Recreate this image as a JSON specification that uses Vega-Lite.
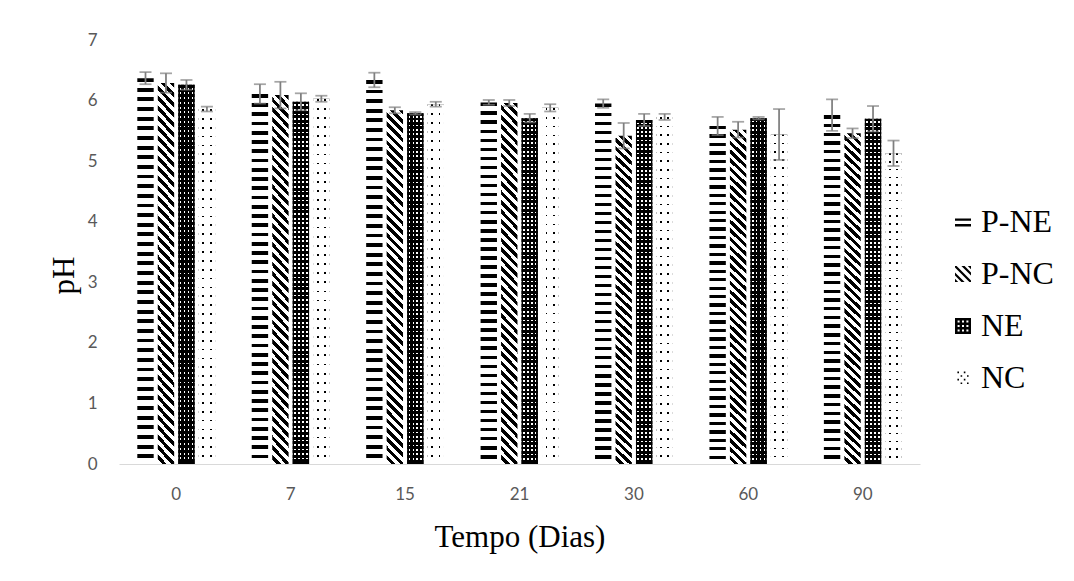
{
"$schema":"https://vega.github.io/schema/vega-lite/v6.json",
"width":801,"height":424,
"autosize":{"type":"none"},
"padding":{"left":119,"top":40,"right":154,"bottom":117},
"background":"white",
"config":{"view":{"stroke":null},
"axis":{"labelFont":"Lato","labelFontSize":17,"labelColor":"#595959","titleFont":"Liberation Serif","titleFontSize":31,"titleFontWeight":"normal","titleColor":"#000","grid":false,"ticks":false}},
"data":{"values":[
{"day":"0","series":"P-NE","ph":6.37,"lo":6.27,"hi":6.47},
{"day":"0","series":"P-NC","ph":6.29,"lo":6.13,"hi":6.45},
{"day":"0","series":"NE","ph":6.26,"lo":6.18,"hi":6.34},
{"day":"0","series":"NC","ph":5.86,"lo":5.82,"hi":5.9},
{"day":"7","series":"P-NE","ph":6.11,"lo":5.95,"hi":6.27},
{"day":"7","series":"P-NC","ph":6.09,"lo":5.87,"hi":6.31},
{"day":"7","series":"NE","ph":5.98,"lo":5.84,"hi":6.12},
{"day":"7","series":"NC","ph":6.03,"lo":5.98,"hi":6.08},
{"day":"15","series":"P-NE","ph":6.34,"lo":6.22,"hi":6.46},
{"day":"15","series":"P-NC","ph":5.84,"lo":5.79,"hi":5.89},
{"day":"15","series":"NE","ph":5.79,"lo":5.77,"hi":5.81},
{"day":"15","series":"NC","ph":5.94,"lo":5.9,"hi":5.98},
{"day":"21","series":"P-NE","ph":5.97,"lo":5.93,"hi":6.01},
{"day":"21","series":"P-NC","ph":5.96,"lo":5.91,"hi":6.01},
{"day":"21","series":"NE","ph":5.71,"lo":5.64,"hi":5.78},
{"day":"21","series":"NC","ph":5.88,"lo":5.82,"hi":5.94},
{"day":"30","series":"P-NE","ph":5.95,"lo":5.88,"hi":6.02},
{"day":"30","series":"P-NC","ph":5.42,"lo":5.21,"hi":5.63},
{"day":"30","series":"NE","ph":5.68,"lo":5.58,"hi":5.78},
{"day":"30","series":"NC","ph":5.73,"lo":5.68,"hi":5.78},
{"day":"60","series":"P-NE","ph":5.58,"lo":5.43,"hi":5.73},
{"day":"60","series":"P-NC","ph":5.52,"lo":5.39,"hi":5.65},
{"day":"60","series":"NE","ph":5.71,"lo":5.69,"hi":5.73},
{"day":"60","series":"NC","ph":5.44,"lo":5.02,"hi":5.86},
{"day":"90","series":"P-NE","ph":5.76,"lo":5.5,"hi":6.02},
{"day":"90","series":"P-NC","ph":5.46,"lo":5.38,"hi":5.54},
{"day":"90","series":"NE","ph":5.7,"lo":5.49,"hi":5.91},
{"day":"90","series":"NC","ph":5.13,"lo":4.92,"hi":5.34}
]},
"encoding":{
"x":{"field":"day","type":"ordinal","sort":["0","7","15","21","30","60","90"],"scale":{"paddingInner":0.32,"paddingOuter":0.16},"axis":{"title":"Tempo (Dias)","labelAngle":0,"domainColor":"#d9d9d9","domainWidth":1,"labelPadding":22,"titlePadding":20}},
"xOffset":{"field":"series","type":"nominal","sort":["P-NE","P-NC","NE","NC"],"scale":{"domain":["P-NE","P-NC","NE","NC"],"paddingInner":0.2,"paddingOuter":0}},
"y":{"field":"ph","type":"quantitative","title":"pH","scale":{"domain":[0,7],"nice":false},"axis":{"domain":false,"values":[0,1,2,3,4,5,6,7],"labelPadding":22,"titleX":-39,"titleY":235}}
},
"layer":[
{"mark":{"type":"point","filled":true,"color":"#000"},
"encoding":{
"y":{"datum":3,"type":"quantitative"},
"shape":{"field":"series","type":"nominal","sort":["P-NE","P-NC","NE","NC"],
"legend":{"title":null,"orient":"none","legendX":828,"legendY":166,"symbolSize":256,"symbolStrokeWidth":0,"symbolOpacity":1,"symbolFillColor":"#000","labelFont":"Liberation Serif","labelFontSize":32,"labelColor":"#000","rowPadding":20,"labelOffset":2},
"scale":{"domain":["P-NE","P-NC","NE","NC"],"range":[
"M-1,-0.45H1V-0.15H-1Z M-1,0.25H1V0.55H-1Z",
"M0.6,-1L1,-1L1,-0.6Z M-0.2,-1L0.2,-1L1,-0.2L1,0.2Z M-1,-1L-0.8,-1L1,0.8L1,1L0.8,1L-1,-0.8Z M-1,-0.2L0.2,1L-0.2,1L-1,0.2Z M-1,0.6L-0.6,1L-1,1Z",
"M-1,-1H1V1H-1Z M-0.675,-0.675V-0.425H-0.425V-0.675Z M-0.125,-0.675V-0.425H0.125V-0.675Z M0.425,-0.675V-0.425H0.675V-0.675Z M-0.675,-0.125V0.125H-0.425V-0.125Z M-0.125,-0.125V0.125H0.125V-0.125Z M0.425,-0.125V0.125H0.675V-0.125Z M-0.675,0.425V0.675H-0.425V0.425Z M-0.125,0.425V0.675H0.125V0.425Z M0.425,0.425V0.675H0.675V0.425Z",
"M-0.7,-0.8H-0.5V-0.6H-0.7Z M0.1,-0.8H0.3V-0.6H0.1Z M-0.3,-0.35H-0.1V-0.15H-0.3Z M0.5,-0.35H0.7V-0.15H0.5Z M-0.7,0.1H-0.5V0.3H-0.7Z M0.1,0.1H0.3V0.3H0.1Z M-0.3,0.55H-0.1V0.75H-0.3Z M0.5,0.55H0.7V0.75H0.5Z"
]}}}},
{"transform":[{"filter":"datum.series === 'P-NE'"}],
"mark":{"type":"bar","fill":{"gradient":"linear","x1":1,"y1":0,"x2":1,"y2":1,"stops":[
{"offset":0,"color":"#000"},{"offset":0.01,"color":"#000"},{"offset":0.01,"color":"#fff"},{"offset":0.025,"color":"#fff"},
{"offset":0.025,"color":"#000"},{"offset":0.035,"color":"#000"},{"offset":0.035,"color":"#fff"},{"offset":0.05,"color":"#fff"},
{"offset":0.05,"color":"#000"},{"offset":0.06,"color":"#000"},{"offset":0.06,"color":"#fff"},{"offset":0.075,"color":"#fff"},
{"offset":0.075,"color":"#000"},{"offset":0.085,"color":"#000"},{"offset":0.085,"color":"#fff"},{"offset":0.1,"color":"#fff"},
{"offset":0.1,"color":"#000"},{"offset":0.11,"color":"#000"},{"offset":0.11,"color":"#fff"},{"offset":0.125,"color":"#fff"},
{"offset":0.125,"color":"#000"},{"offset":0.135,"color":"#000"},{"offset":0.135,"color":"#fff"},{"offset":0.15,"color":"#fff"},
{"offset":0.15,"color":"#000"},{"offset":0.16,"color":"#000"},{"offset":0.16,"color":"#fff"},{"offset":0.175,"color":"#fff"},
{"offset":0.175,"color":"#000"},{"offset":0.185,"color":"#000"},{"offset":0.185,"color":"#fff"},{"offset":0.2,"color":"#fff"},
{"offset":0.2,"color":"#000"},{"offset":0.21,"color":"#000"},{"offset":0.21,"color":"#fff"},{"offset":0.225,"color":"#fff"},
{"offset":0.225,"color":"#000"},{"offset":0.235,"color":"#000"},{"offset":0.235,"color":"#fff"},{"offset":0.25,"color":"#fff"},
{"offset":0.25,"color":"#000"},{"offset":0.26,"color":"#000"},{"offset":0.26,"color":"#fff"},{"offset":0.275,"color":"#fff"},
{"offset":0.275,"color":"#000"},{"offset":0.285,"color":"#000"},{"offset":0.285,"color":"#fff"},{"offset":0.3,"color":"#fff"},
{"offset":0.3,"color":"#000"},{"offset":0.31,"color":"#000"},{"offset":0.31,"color":"#fff"},{"offset":0.325,"color":"#fff"},
{"offset":0.325,"color":"#000"},{"offset":0.335,"color":"#000"},{"offset":0.335,"color":"#fff"},{"offset":0.35,"color":"#fff"},
{"offset":0.35,"color":"#000"},{"offset":0.36,"color":"#000"},{"offset":0.36,"color":"#fff"},{"offset":0.375,"color":"#fff"},
{"offset":0.375,"color":"#000"},{"offset":0.385,"color":"#000"},{"offset":0.385,"color":"#fff"},{"offset":0.4,"color":"#fff"},
{"offset":0.4,"color":"#000"},{"offset":0.41,"color":"#000"},{"offset":0.41,"color":"#fff"},{"offset":0.425,"color":"#fff"},
{"offset":0.425,"color":"#000"},{"offset":0.435,"color":"#000"},{"offset":0.435,"color":"#fff"},{"offset":0.45,"color":"#fff"},
{"offset":0.45,"color":"#000"},{"offset":0.46,"color":"#000"},{"offset":0.46,"color":"#fff"},{"offset":0.475,"color":"#fff"},
{"offset":0.475,"color":"#000"},{"offset":0.485,"color":"#000"},{"offset":0.485,"color":"#fff"},{"offset":0.5,"color":"#fff"},
{"offset":0.5,"color":"#000"},{"offset":0.51,"color":"#000"},{"offset":0.51,"color":"#fff"},{"offset":0.525,"color":"#fff"},
{"offset":0.525,"color":"#000"},{"offset":0.535,"color":"#000"},{"offset":0.535,"color":"#fff"},{"offset":0.55,"color":"#fff"},
{"offset":0.55,"color":"#000"},{"offset":0.56,"color":"#000"},{"offset":0.56,"color":"#fff"},{"offset":0.575,"color":"#fff"},
{"offset":0.575,"color":"#000"},{"offset":0.585,"color":"#000"},{"offset":0.585,"color":"#fff"},{"offset":0.6,"color":"#fff"},
{"offset":0.6,"color":"#000"},{"offset":0.61,"color":"#000"},{"offset":0.61,"color":"#fff"},{"offset":0.625,"color":"#fff"},
{"offset":0.625,"color":"#000"},{"offset":0.635,"color":"#000"},{"offset":0.635,"color":"#fff"},{"offset":0.65,"color":"#fff"},
{"offset":0.65,"color":"#000"},{"offset":0.66,"color":"#000"},{"offset":0.66,"color":"#fff"},{"offset":0.675,"color":"#fff"},
{"offset":0.675,"color":"#000"},{"offset":0.685,"color":"#000"},{"offset":0.685,"color":"#fff"},{"offset":0.7,"color":"#fff"},
{"offset":0.7,"color":"#000"},{"offset":0.71,"color":"#000"},{"offset":0.71,"color":"#fff"},{"offset":0.725,"color":"#fff"},
{"offset":0.725,"color":"#000"},{"offset":0.735,"color":"#000"},{"offset":0.735,"color":"#fff"},{"offset":0.75,"color":"#fff"},
{"offset":0.75,"color":"#000"},{"offset":0.76,"color":"#000"},{"offset":0.76,"color":"#fff"},{"offset":0.775,"color":"#fff"},
{"offset":0.775,"color":"#000"},{"offset":0.785,"color":"#000"},{"offset":0.785,"color":"#fff"},{"offset":0.8,"color":"#fff"},
{"offset":0.8,"color":"#000"},{"offset":0.81,"color":"#000"},{"offset":0.81,"color":"#fff"},{"offset":0.825,"color":"#fff"},
{"offset":0.825,"color":"#000"},{"offset":0.835,"color":"#000"},{"offset":0.835,"color":"#fff"},{"offset":0.85,"color":"#fff"},
{"offset":0.85,"color":"#000"},{"offset":0.86,"color":"#000"},{"offset":0.86,"color":"#fff"},{"offset":0.875,"color":"#fff"},
{"offset":0.875,"color":"#000"},{"offset":0.885,"color":"#000"},{"offset":0.885,"color":"#fff"},{"offset":0.9,"color":"#fff"},
{"offset":0.9,"color":"#000"},{"offset":0.91,"color":"#000"},{"offset":0.91,"color":"#fff"},{"offset":0.925,"color":"#fff"},
{"offset":0.925,"color":"#000"},{"offset":0.935,"color":"#000"},{"offset":0.935,"color":"#fff"},{"offset":0.95,"color":"#fff"},
{"offset":0.95,"color":"#000"},{"offset":0.96,"color":"#000"},{"offset":0.96,"color":"#fff"},{"offset":0.975,"color":"#fff"},
{"offset":0.975,"color":"#000"},{"offset":0.985,"color":"#000"},{"offset":0.985,"color":"#fff"},{"offset":1,"color":"#fff"}
]}}},
{"transform":[{"filter":"datum.series === 'P-NC'"}],
"mark":{"type":"bar","fill":{"gradient":"linear","x1":1,"y1":0,"x2":0.951,"y2":1.045,"stops":[
{"offset":0,"color":"#000"},{"offset":0.0125,"color":"#000"},{"offset":0.0125,"color":"#fff"},{"offset":0.025,"color":"#fff"},
{"offset":0.025,"color":"#000"},{"offset":0.0375,"color":"#000"},{"offset":0.0375,"color":"#fff"},{"offset":0.05,"color":"#fff"},
{"offset":0.05,"color":"#000"},{"offset":0.0625,"color":"#000"},{"offset":0.0625,"color":"#fff"},{"offset":0.075,"color":"#fff"},
{"offset":0.075,"color":"#000"},{"offset":0.0875,"color":"#000"},{"offset":0.0875,"color":"#fff"},{"offset":0.1,"color":"#fff"},
{"offset":0.1,"color":"#000"},{"offset":0.1125,"color":"#000"},{"offset":0.1125,"color":"#fff"},{"offset":0.125,"color":"#fff"},
{"offset":0.125,"color":"#000"},{"offset":0.1375,"color":"#000"},{"offset":0.1375,"color":"#fff"},{"offset":0.15,"color":"#fff"},
{"offset":0.15,"color":"#000"},{"offset":0.1625,"color":"#000"},{"offset":0.1625,"color":"#fff"},{"offset":0.175,"color":"#fff"},
{"offset":0.175,"color":"#000"},{"offset":0.1875,"color":"#000"},{"offset":0.1875,"color":"#fff"},{"offset":0.2,"color":"#fff"},
{"offset":0.2,"color":"#000"},{"offset":0.2125,"color":"#000"},{"offset":0.2125,"color":"#fff"},{"offset":0.225,"color":"#fff"},
{"offset":0.225,"color":"#000"},{"offset":0.2375,"color":"#000"},{"offset":0.2375,"color":"#fff"},{"offset":0.25,"color":"#fff"},
{"offset":0.25,"color":"#000"},{"offset":0.2625,"color":"#000"},{"offset":0.2625,"color":"#fff"},{"offset":0.275,"color":"#fff"},
{"offset":0.275,"color":"#000"},{"offset":0.2875,"color":"#000"},{"offset":0.2875,"color":"#fff"},{"offset":0.3,"color":"#fff"},
{"offset":0.3,"color":"#000"},{"offset":0.3125,"color":"#000"},{"offset":0.3125,"color":"#fff"},{"offset":0.325,"color":"#fff"},
{"offset":0.325,"color":"#000"},{"offset":0.3375,"color":"#000"},{"offset":0.3375,"color":"#fff"},{"offset":0.35,"color":"#fff"},
{"offset":0.35,"color":"#000"},{"offset":0.3625,"color":"#000"},{"offset":0.3625,"color":"#fff"},{"offset":0.375,"color":"#fff"},
{"offset":0.375,"color":"#000"},{"offset":0.3875,"color":"#000"},{"offset":0.3875,"color":"#fff"},{"offset":0.4,"color":"#fff"},
{"offset":0.4,"color":"#000"},{"offset":0.4125,"color":"#000"},{"offset":0.4125,"color":"#fff"},{"offset":0.425,"color":"#fff"},
{"offset":0.425,"color":"#000"},{"offset":0.4375,"color":"#000"},{"offset":0.4375,"color":"#fff"},{"offset":0.45,"color":"#fff"},
{"offset":0.45,"color":"#000"},{"offset":0.4625,"color":"#000"},{"offset":0.4625,"color":"#fff"},{"offset":0.475,"color":"#fff"},
{"offset":0.475,"color":"#000"},{"offset":0.4875,"color":"#000"},{"offset":0.4875,"color":"#fff"},{"offset":0.5,"color":"#fff"},
{"offset":0.5,"color":"#000"},{"offset":0.5125,"color":"#000"},{"offset":0.5125,"color":"#fff"},{"offset":0.525,"color":"#fff"},
{"offset":0.525,"color":"#000"},{"offset":0.5375,"color":"#000"},{"offset":0.5375,"color":"#fff"},{"offset":0.55,"color":"#fff"},
{"offset":0.55,"color":"#000"},{"offset":0.5625,"color":"#000"},{"offset":0.5625,"color":"#fff"},{"offset":0.575,"color":"#fff"},
{"offset":0.575,"color":"#000"},{"offset":0.5875,"color":"#000"},{"offset":0.5875,"color":"#fff"},{"offset":0.6,"color":"#fff"},
{"offset":0.6,"color":"#000"},{"offset":0.6125,"color":"#000"},{"offset":0.6125,"color":"#fff"},{"offset":0.625,"color":"#fff"},
{"offset":0.625,"color":"#000"},{"offset":0.6375,"color":"#000"},{"offset":0.6375,"color":"#fff"},{"offset":0.65,"color":"#fff"},
{"offset":0.65,"color":"#000"},{"offset":0.6625,"color":"#000"},{"offset":0.6625,"color":"#fff"},{"offset":0.675,"color":"#fff"},
{"offset":0.675,"color":"#000"},{"offset":0.6875,"color":"#000"},{"offset":0.6875,"color":"#fff"},{"offset":0.7,"color":"#fff"},
{"offset":0.7,"color":"#000"},{"offset":0.7125,"color":"#000"},{"offset":0.7125,"color":"#fff"},{"offset":0.725,"color":"#fff"},
{"offset":0.725,"color":"#000"},{"offset":0.7375,"color":"#000"},{"offset":0.7375,"color":"#fff"},{"offset":0.75,"color":"#fff"},
{"offset":0.75,"color":"#000"},{"offset":0.7625,"color":"#000"},{"offset":0.7625,"color":"#fff"},{"offset":0.775,"color":"#fff"},
{"offset":0.775,"color":"#000"},{"offset":0.7875,"color":"#000"},{"offset":0.7875,"color":"#fff"},{"offset":0.8,"color":"#fff"},
{"offset":0.8,"color":"#000"},{"offset":0.8125,"color":"#000"},{"offset":0.8125,"color":"#fff"},{"offset":0.825,"color":"#fff"},
{"offset":0.825,"color":"#000"},{"offset":0.8375,"color":"#000"},{"offset":0.8375,"color":"#fff"},{"offset":0.85,"color":"#fff"},
{"offset":0.85,"color":"#000"},{"offset":0.8625,"color":"#000"},{"offset":0.8625,"color":"#fff"},{"offset":0.875,"color":"#fff"},
{"offset":0.875,"color":"#000"},{"offset":0.8875,"color":"#000"},{"offset":0.8875,"color":"#fff"},{"offset":0.9,"color":"#fff"},
{"offset":0.9,"color":"#000"},{"offset":0.9125,"color":"#000"},{"offset":0.9125,"color":"#fff"},{"offset":0.925,"color":"#fff"},
{"offset":0.925,"color":"#000"},{"offset":0.9375,"color":"#000"},{"offset":0.9375,"color":"#fff"},{"offset":0.95,"color":"#fff"},
{"offset":0.95,"color":"#000"},{"offset":0.9625,"color":"#000"},{"offset":0.9625,"color":"#fff"},{"offset":0.975,"color":"#fff"},
{"offset":0.975,"color":"#000"},{"offset":0.9875,"color":"#000"},{"offset":0.9875,"color":"#fff"},{"offset":1,"color":"#fff"}
]}}},
{"transform":[{"filter":"datum.series === 'NE'"}],
"mark":{"type":"bar","fill":{"gradient":"linear","x1":0,"y1":0,"x2":1,"y2":0,"stops":[
{"offset":0,"color":"#000"},{"offset":0.09,"color":"#000"},{"offset":0.09,"color":"#fff"},{"offset":0.19,"color":"#fff"},
{"offset":0.19,"color":"#000"},{"offset":0.33,"color":"#000"},{"offset":0.33,"color":"#fff"},{"offset":0.43,"color":"#fff"},
{"offset":0.43,"color":"#000"},{"offset":0.57,"color":"#000"},{"offset":0.57,"color":"#fff"},{"offset":0.67,"color":"#fff"},
{"offset":0.67,"color":"#000"},{"offset":0.81,"color":"#000"},{"offset":0.81,"color":"#fff"},{"offset":0.91,"color":"#fff"},
{"offset":0.91,"color":"#000"},{"offset":1,"color":"#000"}
]}}},
{"transform":[{"filter":"datum.series === 'NE'"}],
"mark":{"type":"bar","fill":{"gradient":"linear","x1":1,"y1":0,"x2":1,"y2":1,"stops":[
{"offset":0,"color":"#000"},{"offset":0.0075,"color":"#000"},{"offset":0.0075,"color":"rgba(0,0,0,0)"},{"offset":0.0125,"color":"rgba(0,0,0,0)"},
{"offset":0.0125,"color":"#000"},{"offset":0.02,"color":"#000"},{"offset":0.02,"color":"rgba(0,0,0,0)"},{"offset":0.025,"color":"rgba(0,0,0,0)"},
{"offset":0.025,"color":"#000"},{"offset":0.0325,"color":"#000"},{"offset":0.0325,"color":"rgba(0,0,0,0)"},{"offset":0.0375,"color":"rgba(0,0,0,0)"},
{"offset":0.0375,"color":"#000"},{"offset":0.045,"color":"#000"},{"offset":0.045,"color":"rgba(0,0,0,0)"},{"offset":0.05,"color":"rgba(0,0,0,0)"},
{"offset":0.05,"color":"#000"},{"offset":0.0575,"color":"#000"},{"offset":0.0575,"color":"rgba(0,0,0,0)"},{"offset":0.0625,"color":"rgba(0,0,0,0)"},
{"offset":0.0625,"color":"#000"},{"offset":0.07,"color":"#000"},{"offset":0.07,"color":"rgba(0,0,0,0)"},{"offset":0.075,"color":"rgba(0,0,0,0)"},
{"offset":0.075,"color":"#000"},{"offset":0.0825,"color":"#000"},{"offset":0.0825,"color":"rgba(0,0,0,0)"},{"offset":0.0875,"color":"rgba(0,0,0,0)"},
{"offset":0.0875,"color":"#000"},{"offset":0.095,"color":"#000"},{"offset":0.095,"color":"rgba(0,0,0,0)"},{"offset":0.1,"color":"rgba(0,0,0,0)"},
{"offset":0.1,"color":"#000"},{"offset":0.1075,"color":"#000"},{"offset":0.1075,"color":"rgba(0,0,0,0)"},{"offset":0.1125,"color":"rgba(0,0,0,0)"},
{"offset":0.1125,"color":"#000"},{"offset":0.12,"color":"#000"},{"offset":0.12,"color":"rgba(0,0,0,0)"},{"offset":0.125,"color":"rgba(0,0,0,0)"},
{"offset":0.125,"color":"#000"},{"offset":0.1325,"color":"#000"},{"offset":0.1325,"color":"rgba(0,0,0,0)"},{"offset":0.1375,"color":"rgba(0,0,0,0)"},
{"offset":0.1375,"color":"#000"},{"offset":0.145,"color":"#000"},{"offset":0.145,"color":"rgba(0,0,0,0)"},{"offset":0.15,"color":"rgba(0,0,0,0)"},
{"offset":0.15,"color":"#000"},{"offset":0.1575,"color":"#000"},{"offset":0.1575,"color":"rgba(0,0,0,0)"},{"offset":0.1625,"color":"rgba(0,0,0,0)"},
{"offset":0.1625,"color":"#000"},{"offset":0.17,"color":"#000"},{"offset":0.17,"color":"rgba(0,0,0,0)"},{"offset":0.175,"color":"rgba(0,0,0,0)"},
{"offset":0.175,"color":"#000"},{"offset":0.1825,"color":"#000"},{"offset":0.1825,"color":"rgba(0,0,0,0)"},{"offset":0.1875,"color":"rgba(0,0,0,0)"},
{"offset":0.1875,"color":"#000"},{"offset":0.195,"color":"#000"},{"offset":0.195,"color":"rgba(0,0,0,0)"},{"offset":0.2,"color":"rgba(0,0,0,0)"},
{"offset":0.2,"color":"#000"},{"offset":0.2075,"color":"#000"},{"offset":0.2075,"color":"rgba(0,0,0,0)"},{"offset":0.2125,"color":"rgba(0,0,0,0)"},
{"offset":0.2125,"color":"#000"},{"offset":0.22,"color":"#000"},{"offset":0.22,"color":"rgba(0,0,0,0)"},{"offset":0.225,"color":"rgba(0,0,0,0)"},
{"offset":0.225,"color":"#000"},{"offset":0.2325,"color":"#000"},{"offset":0.2325,"color":"rgba(0,0,0,0)"},{"offset":0.2375,"color":"rgba(0,0,0,0)"},
{"offset":0.2375,"color":"#000"},{"offset":0.245,"color":"#000"},{"offset":0.245,"color":"rgba(0,0,0,0)"},{"offset":0.25,"color":"rgba(0,0,0,0)"},
{"offset":0.25,"color":"#000"},{"offset":0.2575,"color":"#000"},{"offset":0.2575,"color":"rgba(0,0,0,0)"},{"offset":0.2625,"color":"rgba(0,0,0,0)"},
{"offset":0.2625,"color":"#000"},{"offset":0.27,"color":"#000"},{"offset":0.27,"color":"rgba(0,0,0,0)"},{"offset":0.275,"color":"rgba(0,0,0,0)"},
{"offset":0.275,"color":"#000"},{"offset":0.2825,"color":"#000"},{"offset":0.2825,"color":"rgba(0,0,0,0)"},{"offset":0.2875,"color":"rgba(0,0,0,0)"},
{"offset":0.2875,"color":"#000"},{"offset":0.295,"color":"#000"},{"offset":0.295,"color":"rgba(0,0,0,0)"},{"offset":0.3,"color":"rgba(0,0,0,0)"},
{"offset":0.3,"color":"#000"},{"offset":0.3075,"color":"#000"},{"offset":0.3075,"color":"rgba(0,0,0,0)"},{"offset":0.3125,"color":"rgba(0,0,0,0)"},
{"offset":0.3125,"color":"#000"},{"offset":0.32,"color":"#000"},{"offset":0.32,"color":"rgba(0,0,0,0)"},{"offset":0.325,"color":"rgba(0,0,0,0)"},
{"offset":0.325,"color":"#000"},{"offset":0.3325,"color":"#000"},{"offset":0.3325,"color":"rgba(0,0,0,0)"},{"offset":0.3375,"color":"rgba(0,0,0,0)"},
{"offset":0.3375,"color":"#000"},{"offset":0.345,"color":"#000"},{"offset":0.345,"color":"rgba(0,0,0,0)"},{"offset":0.35,"color":"rgba(0,0,0,0)"},
{"offset":0.35,"color":"#000"},{"offset":0.3575,"color":"#000"},{"offset":0.3575,"color":"rgba(0,0,0,0)"},{"offset":0.3625,"color":"rgba(0,0,0,0)"},
{"offset":0.3625,"color":"#000"},{"offset":0.37,"color":"#000"},{"offset":0.37,"color":"rgba(0,0,0,0)"},{"offset":0.375,"color":"rgba(0,0,0,0)"},
{"offset":0.375,"color":"#000"},{"offset":0.3825,"color":"#000"},{"offset":0.3825,"color":"rgba(0,0,0,0)"},{"offset":0.3875,"color":"rgba(0,0,0,0)"},
{"offset":0.3875,"color":"#000"},{"offset":0.395,"color":"#000"},{"offset":0.395,"color":"rgba(0,0,0,0)"},{"offset":0.4,"color":"rgba(0,0,0,0)"},
{"offset":0.4,"color":"#000"},{"offset":0.4075,"color":"#000"},{"offset":0.4075,"color":"rgba(0,0,0,0)"},{"offset":0.4125,"color":"rgba(0,0,0,0)"},
{"offset":0.4125,"color":"#000"},{"offset":0.42,"color":"#000"},{"offset":0.42,"color":"rgba(0,0,0,0)"},{"offset":0.425,"color":"rgba(0,0,0,0)"},
{"offset":0.425,"color":"#000"},{"offset":0.4325,"color":"#000"},{"offset":0.4325,"color":"rgba(0,0,0,0)"},{"offset":0.4375,"color":"rgba(0,0,0,0)"},
{"offset":0.4375,"color":"#000"},{"offset":0.445,"color":"#000"},{"offset":0.445,"color":"rgba(0,0,0,0)"},{"offset":0.45,"color":"rgba(0,0,0,0)"},
{"offset":0.45,"color":"#000"},{"offset":0.4575,"color":"#000"},{"offset":0.4575,"color":"rgba(0,0,0,0)"},{"offset":0.4625,"color":"rgba(0,0,0,0)"},
{"offset":0.4625,"color":"#000"},{"offset":0.47,"color":"#000"},{"offset":0.47,"color":"rgba(0,0,0,0)"},{"offset":0.475,"color":"rgba(0,0,0,0)"},
{"offset":0.475,"color":"#000"},{"offset":0.4825,"color":"#000"},{"offset":0.4825,"color":"rgba(0,0,0,0)"},{"offset":0.4875,"color":"rgba(0,0,0,0)"},
{"offset":0.4875,"color":"#000"},{"offset":0.495,"color":"#000"},{"offset":0.495,"color":"rgba(0,0,0,0)"},{"offset":0.5,"color":"rgba(0,0,0,0)"},
{"offset":0.5,"color":"#000"},{"offset":0.5075,"color":"#000"},{"offset":0.5075,"color":"rgba(0,0,0,0)"},{"offset":0.5125,"color":"rgba(0,0,0,0)"},
{"offset":0.5125,"color":"#000"},{"offset":0.52,"color":"#000"},{"offset":0.52,"color":"rgba(0,0,0,0)"},{"offset":0.525,"color":"rgba(0,0,0,0)"},
{"offset":0.525,"color":"#000"},{"offset":0.5325,"color":"#000"},{"offset":0.5325,"color":"rgba(0,0,0,0)"},{"offset":0.5375,"color":"rgba(0,0,0,0)"},
{"offset":0.5375,"color":"#000"},{"offset":0.545,"color":"#000"},{"offset":0.545,"color":"rgba(0,0,0,0)"},{"offset":0.55,"color":"rgba(0,0,0,0)"},
{"offset":0.55,"color":"#000"},{"offset":0.5575,"color":"#000"},{"offset":0.5575,"color":"rgba(0,0,0,0)"},{"offset":0.5625,"color":"rgba(0,0,0,0)"},
{"offset":0.5625,"color":"#000"},{"offset":0.57,"color":"#000"},{"offset":0.57,"color":"rgba(0,0,0,0)"},{"offset":0.575,"color":"rgba(0,0,0,0)"},
{"offset":0.575,"color":"#000"},{"offset":0.5825,"color":"#000"},{"offset":0.5825,"color":"rgba(0,0,0,0)"},{"offset":0.5875,"color":"rgba(0,0,0,0)"},
{"offset":0.5875,"color":"#000"},{"offset":0.595,"color":"#000"},{"offset":0.595,"color":"rgba(0,0,0,0)"},{"offset":0.6,"color":"rgba(0,0,0,0)"},
{"offset":0.6,"color":"#000"},{"offset":0.6075,"color":"#000"},{"offset":0.6075,"color":"rgba(0,0,0,0)"},{"offset":0.6125,"color":"rgba(0,0,0,0)"},
{"offset":0.6125,"color":"#000"},{"offset":0.62,"color":"#000"},{"offset":0.62,"color":"rgba(0,0,0,0)"},{"offset":0.625,"color":"rgba(0,0,0,0)"},
{"offset":0.625,"color":"#000"},{"offset":0.6325,"color":"#000"},{"offset":0.6325,"color":"rgba(0,0,0,0)"},{"offset":0.6375,"color":"rgba(0,0,0,0)"},
{"offset":0.6375,"color":"#000"},{"offset":0.645,"color":"#000"},{"offset":0.645,"color":"rgba(0,0,0,0)"},{"offset":0.65,"color":"rgba(0,0,0,0)"},
{"offset":0.65,"color":"#000"},{"offset":0.6575,"color":"#000"},{"offset":0.6575,"color":"rgba(0,0,0,0)"},{"offset":0.6625,"color":"rgba(0,0,0,0)"},
{"offset":0.6625,"color":"#000"},{"offset":0.67,"color":"#000"},{"offset":0.67,"color":"rgba(0,0,0,0)"},{"offset":0.675,"color":"rgba(0,0,0,0)"},
{"offset":0.675,"color":"#000"},{"offset":0.6825,"color":"#000"},{"offset":0.6825,"color":"rgba(0,0,0,0)"},{"offset":0.6875,"color":"rgba(0,0,0,0)"},
{"offset":0.6875,"color":"#000"},{"offset":0.695,"color":"#000"},{"offset":0.695,"color":"rgba(0,0,0,0)"},{"offset":0.7,"color":"rgba(0,0,0,0)"},
{"offset":0.7,"color":"#000"},{"offset":0.7075,"color":"#000"},{"offset":0.7075,"color":"rgba(0,0,0,0)"},{"offset":0.7125,"color":"rgba(0,0,0,0)"},
{"offset":0.7125,"color":"#000"},{"offset":0.72,"color":"#000"},{"offset":0.72,"color":"rgba(0,0,0,0)"},{"offset":0.725,"color":"rgba(0,0,0,0)"},
{"offset":0.725,"color":"#000"},{"offset":0.7325,"color":"#000"},{"offset":0.7325,"color":"rgba(0,0,0,0)"},{"offset":0.7375,"color":"rgba(0,0,0,0)"},
{"offset":0.7375,"color":"#000"},{"offset":0.745,"color":"#000"},{"offset":0.745,"color":"rgba(0,0,0,0)"},{"offset":0.75,"color":"rgba(0,0,0,0)"},
{"offset":0.75,"color":"#000"},{"offset":0.7575,"color":"#000"},{"offset":0.7575,"color":"rgba(0,0,0,0)"},{"offset":0.7625,"color":"rgba(0,0,0,0)"},
{"offset":0.7625,"color":"#000"},{"offset":0.77,"color":"#000"},{"offset":0.77,"color":"rgba(0,0,0,0)"},{"offset":0.775,"color":"rgba(0,0,0,0)"},
{"offset":0.775,"color":"#000"},{"offset":0.7825,"color":"#000"},{"offset":0.7825,"color":"rgba(0,0,0,0)"},{"offset":0.7875,"color":"rgba(0,0,0,0)"},
{"offset":0.7875,"color":"#000"},{"offset":0.795,"color":"#000"},{"offset":0.795,"color":"rgba(0,0,0,0)"},{"offset":0.8,"color":"rgba(0,0,0,0)"},
{"offset":0.8,"color":"#000"},{"offset":0.8075,"color":"#000"},{"offset":0.8075,"color":"rgba(0,0,0,0)"},{"offset":0.8125,"color":"rgba(0,0,0,0)"},
{"offset":0.8125,"color":"#000"},{"offset":0.82,"color":"#000"},{"offset":0.82,"color":"rgba(0,0,0,0)"},{"offset":0.825,"color":"rgba(0,0,0,0)"},
{"offset":0.825,"color":"#000"},{"offset":0.8325,"color":"#000"},{"offset":0.8325,"color":"rgba(0,0,0,0)"},{"offset":0.8375,"color":"rgba(0,0,0,0)"},
{"offset":0.8375,"color":"#000"},{"offset":0.845,"color":"#000"},{"offset":0.845,"color":"rgba(0,0,0,0)"},{"offset":0.85,"color":"rgba(0,0,0,0)"},
{"offset":0.85,"color":"#000"},{"offset":0.8575,"color":"#000"},{"offset":0.8575,"color":"rgba(0,0,0,0)"},{"offset":0.8625,"color":"rgba(0,0,0,0)"},
{"offset":0.8625,"color":"#000"},{"offset":0.87,"color":"#000"},{"offset":0.87,"color":"rgba(0,0,0,0)"},{"offset":0.875,"color":"rgba(0,0,0,0)"},
{"offset":0.875,"color":"#000"},{"offset":0.8825,"color":"#000"},{"offset":0.8825,"color":"rgba(0,0,0,0)"},{"offset":0.8875,"color":"rgba(0,0,0,0)"},
{"offset":0.8875,"color":"#000"},{"offset":0.895,"color":"#000"},{"offset":0.895,"color":"rgba(0,0,0,0)"},{"offset":0.9,"color":"rgba(0,0,0,0)"},
{"offset":0.9,"color":"#000"},{"offset":0.9075,"color":"#000"},{"offset":0.9075,"color":"rgba(0,0,0,0)"},{"offset":0.9125,"color":"rgba(0,0,0,0)"},
{"offset":0.9125,"color":"#000"},{"offset":0.92,"color":"#000"},{"offset":0.92,"color":"rgba(0,0,0,0)"},{"offset":0.925,"color":"rgba(0,0,0,0)"},
{"offset":0.925,"color":"#000"},{"offset":0.9325,"color":"#000"},{"offset":0.9325,"color":"rgba(0,0,0,0)"},{"offset":0.9375,"color":"rgba(0,0,0,0)"},
{"offset":0.9375,"color":"#000"},{"offset":0.945,"color":"#000"},{"offset":0.945,"color":"rgba(0,0,0,0)"},{"offset":0.95,"color":"rgba(0,0,0,0)"},
{"offset":0.95,"color":"#000"},{"offset":0.9575,"color":"#000"},{"offset":0.9575,"color":"rgba(0,0,0,0)"},{"offset":0.9625,"color":"rgba(0,0,0,0)"},
{"offset":0.9625,"color":"#000"},{"offset":0.97,"color":"#000"},{"offset":0.97,"color":"rgba(0,0,0,0)"},{"offset":0.975,"color":"rgba(0,0,0,0)"},
{"offset":0.975,"color":"#000"},{"offset":0.9825,"color":"#000"},{"offset":0.9825,"color":"rgba(0,0,0,0)"},{"offset":0.9875,"color":"rgba(0,0,0,0)"},
{"offset":0.9875,"color":"#000"},{"offset":1,"color":"#000"}
]}}},
{"transform":[{"filter":"datum.series === 'NC'"}],
"mark":{"type":"bar","fill":{"gradient":"linear","x1":1,"y1":0,"x2":1,"y2":1,"stops":[
{"offset":0,"color":"#000"},{"offset":0.005,"color":"#000"},{"offset":0.005,"color":"#fff"},{"offset":0.025,"color":"#fff"},
{"offset":0.025,"color":"#000"},{"offset":0.03,"color":"#000"},{"offset":0.03,"color":"#fff"},{"offset":0.05,"color":"#fff"},
{"offset":0.05,"color":"#000"},{"offset":0.055,"color":"#000"},{"offset":0.055,"color":"#fff"},{"offset":0.075,"color":"#fff"},
{"offset":0.075,"color":"#000"},{"offset":0.08,"color":"#000"},{"offset":0.08,"color":"#fff"},{"offset":0.1,"color":"#fff"},
{"offset":0.1,"color":"#000"},{"offset":0.105,"color":"#000"},{"offset":0.105,"color":"#fff"},{"offset":0.125,"color":"#fff"},
{"offset":0.125,"color":"#000"},{"offset":0.13,"color":"#000"},{"offset":0.13,"color":"#fff"},{"offset":0.15,"color":"#fff"},
{"offset":0.15,"color":"#000"},{"offset":0.155,"color":"#000"},{"offset":0.155,"color":"#fff"},{"offset":0.175,"color":"#fff"},
{"offset":0.175,"color":"#000"},{"offset":0.18,"color":"#000"},{"offset":0.18,"color":"#fff"},{"offset":0.2,"color":"#fff"},
{"offset":0.2,"color":"#000"},{"offset":0.205,"color":"#000"},{"offset":0.205,"color":"#fff"},{"offset":0.225,"color":"#fff"},
{"offset":0.225,"color":"#000"},{"offset":0.23,"color":"#000"},{"offset":0.23,"color":"#fff"},{"offset":0.25,"color":"#fff"},
{"offset":0.25,"color":"#000"},{"offset":0.255,"color":"#000"},{"offset":0.255,"color":"#fff"},{"offset":0.275,"color":"#fff"},
{"offset":0.275,"color":"#000"},{"offset":0.28,"color":"#000"},{"offset":0.28,"color":"#fff"},{"offset":0.3,"color":"#fff"},
{"offset":0.3,"color":"#000"},{"offset":0.305,"color":"#000"},{"offset":0.305,"color":"#fff"},{"offset":0.325,"color":"#fff"},
{"offset":0.325,"color":"#000"},{"offset":0.33,"color":"#000"},{"offset":0.33,"color":"#fff"},{"offset":0.35,"color":"#fff"},
{"offset":0.35,"color":"#000"},{"offset":0.355,"color":"#000"},{"offset":0.355,"color":"#fff"},{"offset":0.375,"color":"#fff"},
{"offset":0.375,"color":"#000"},{"offset":0.38,"color":"#000"},{"offset":0.38,"color":"#fff"},{"offset":0.4,"color":"#fff"},
{"offset":0.4,"color":"#000"},{"offset":0.405,"color":"#000"},{"offset":0.405,"color":"#fff"},{"offset":0.425,"color":"#fff"},
{"offset":0.425,"color":"#000"},{"offset":0.43,"color":"#000"},{"offset":0.43,"color":"#fff"},{"offset":0.45,"color":"#fff"},
{"offset":0.45,"color":"#000"},{"offset":0.455,"color":"#000"},{"offset":0.455,"color":"#fff"},{"offset":0.475,"color":"#fff"},
{"offset":0.475,"color":"#000"},{"offset":0.48,"color":"#000"},{"offset":0.48,"color":"#fff"},{"offset":0.5,"color":"#fff"},
{"offset":0.5,"color":"#000"},{"offset":0.505,"color":"#000"},{"offset":0.505,"color":"#fff"},{"offset":0.525,"color":"#fff"},
{"offset":0.525,"color":"#000"},{"offset":0.53,"color":"#000"},{"offset":0.53,"color":"#fff"},{"offset":0.55,"color":"#fff"},
{"offset":0.55,"color":"#000"},{"offset":0.555,"color":"#000"},{"offset":0.555,"color":"#fff"},{"offset":0.575,"color":"#fff"},
{"offset":0.575,"color":"#000"},{"offset":0.58,"color":"#000"},{"offset":0.58,"color":"#fff"},{"offset":0.6,"color":"#fff"},
{"offset":0.6,"color":"#000"},{"offset":0.605,"color":"#000"},{"offset":0.605,"color":"#fff"},{"offset":0.625,"color":"#fff"},
{"offset":0.625,"color":"#000"},{"offset":0.63,"color":"#000"},{"offset":0.63,"color":"#fff"},{"offset":0.65,"color":"#fff"},
{"offset":0.65,"color":"#000"},{"offset":0.655,"color":"#000"},{"offset":0.655,"color":"#fff"},{"offset":0.675,"color":"#fff"},
{"offset":0.675,"color":"#000"},{"offset":0.68,"color":"#000"},{"offset":0.68,"color":"#fff"},{"offset":0.7,"color":"#fff"},
{"offset":0.7,"color":"#000"},{"offset":0.705,"color":"#000"},{"offset":0.705,"color":"#fff"},{"offset":0.725,"color":"#fff"},
{"offset":0.725,"color":"#000"},{"offset":0.73,"color":"#000"},{"offset":0.73,"color":"#fff"},{"offset":0.75,"color":"#fff"},
{"offset":0.75,"color":"#000"},{"offset":0.755,"color":"#000"},{"offset":0.755,"color":"#fff"},{"offset":0.775,"color":"#fff"},
{"offset":0.775,"color":"#000"},{"offset":0.78,"color":"#000"},{"offset":0.78,"color":"#fff"},{"offset":0.8,"color":"#fff"},
{"offset":0.8,"color":"#000"},{"offset":0.805,"color":"#000"},{"offset":0.805,"color":"#fff"},{"offset":0.825,"color":"#fff"},
{"offset":0.825,"color":"#000"},{"offset":0.83,"color":"#000"},{"offset":0.83,"color":"#fff"},{"offset":0.85,"color":"#fff"},
{"offset":0.85,"color":"#000"},{"offset":0.855,"color":"#000"},{"offset":0.855,"color":"#fff"},{"offset":0.875,"color":"#fff"},
{"offset":0.875,"color":"#000"},{"offset":0.88,"color":"#000"},{"offset":0.88,"color":"#fff"},{"offset":0.9,"color":"#fff"},
{"offset":0.9,"color":"#000"},{"offset":0.905,"color":"#000"},{"offset":0.905,"color":"#fff"},{"offset":0.925,"color":"#fff"},
{"offset":0.925,"color":"#000"},{"offset":0.93,"color":"#000"},{"offset":0.93,"color":"#fff"},{"offset":0.95,"color":"#fff"},
{"offset":0.95,"color":"#000"},{"offset":0.955,"color":"#000"},{"offset":0.955,"color":"#fff"},{"offset":0.975,"color":"#fff"},
{"offset":0.975,"color":"#000"},{"offset":0.98,"color":"#000"},{"offset":0.98,"color":"#fff"},{"offset":1,"color":"#fff"}
]}}},
{"transform":[{"filter":"datum.series === 'NC'"}],
"mark":{"type":"bar","fill":{"gradient":"linear","x1":0,"y1":0,"x2":1,"y2":0,"stops":[
{"offset":0,"color":"#fff"},{"offset":0.22,"color":"#fff"},{"offset":0.22,"color":"rgba(255,255,255,0)"},{"offset":0.33,"color":"rgba(255,255,255,0)"},
{"offset":0.33,"color":"#fff"},{"offset":0.67,"color":"#fff"},{"offset":0.67,"color":"rgba(255,255,255,0)"},{"offset":0.78,"color":"rgba(255,255,255,0)"},
{"offset":0.78,"color":"#fff"},{"offset":1,"color":"#fff"}
]}}},
{"mark":{"type":"rule","color":"#7f7f7f","strokeWidth":1.75},
"encoding":{"y":{"field":"lo","type":"quantitative","title":"pH"},"y2":{"field":"hi"}}},
{"mark":{"type":"tick","color":"#7f7f7f","thickness":1.75,"size":12,"orient":"horizontal"},
"encoding":{"y":{"field":"lo","type":"quantitative","title":"pH"}}},
{"mark":{"type":"tick","color":"#7f7f7f","thickness":1.75,"size":12,"orient":"horizontal"},
"encoding":{"y":{"field":"hi","type":"quantitative","title":"pH"}}}
]
}
